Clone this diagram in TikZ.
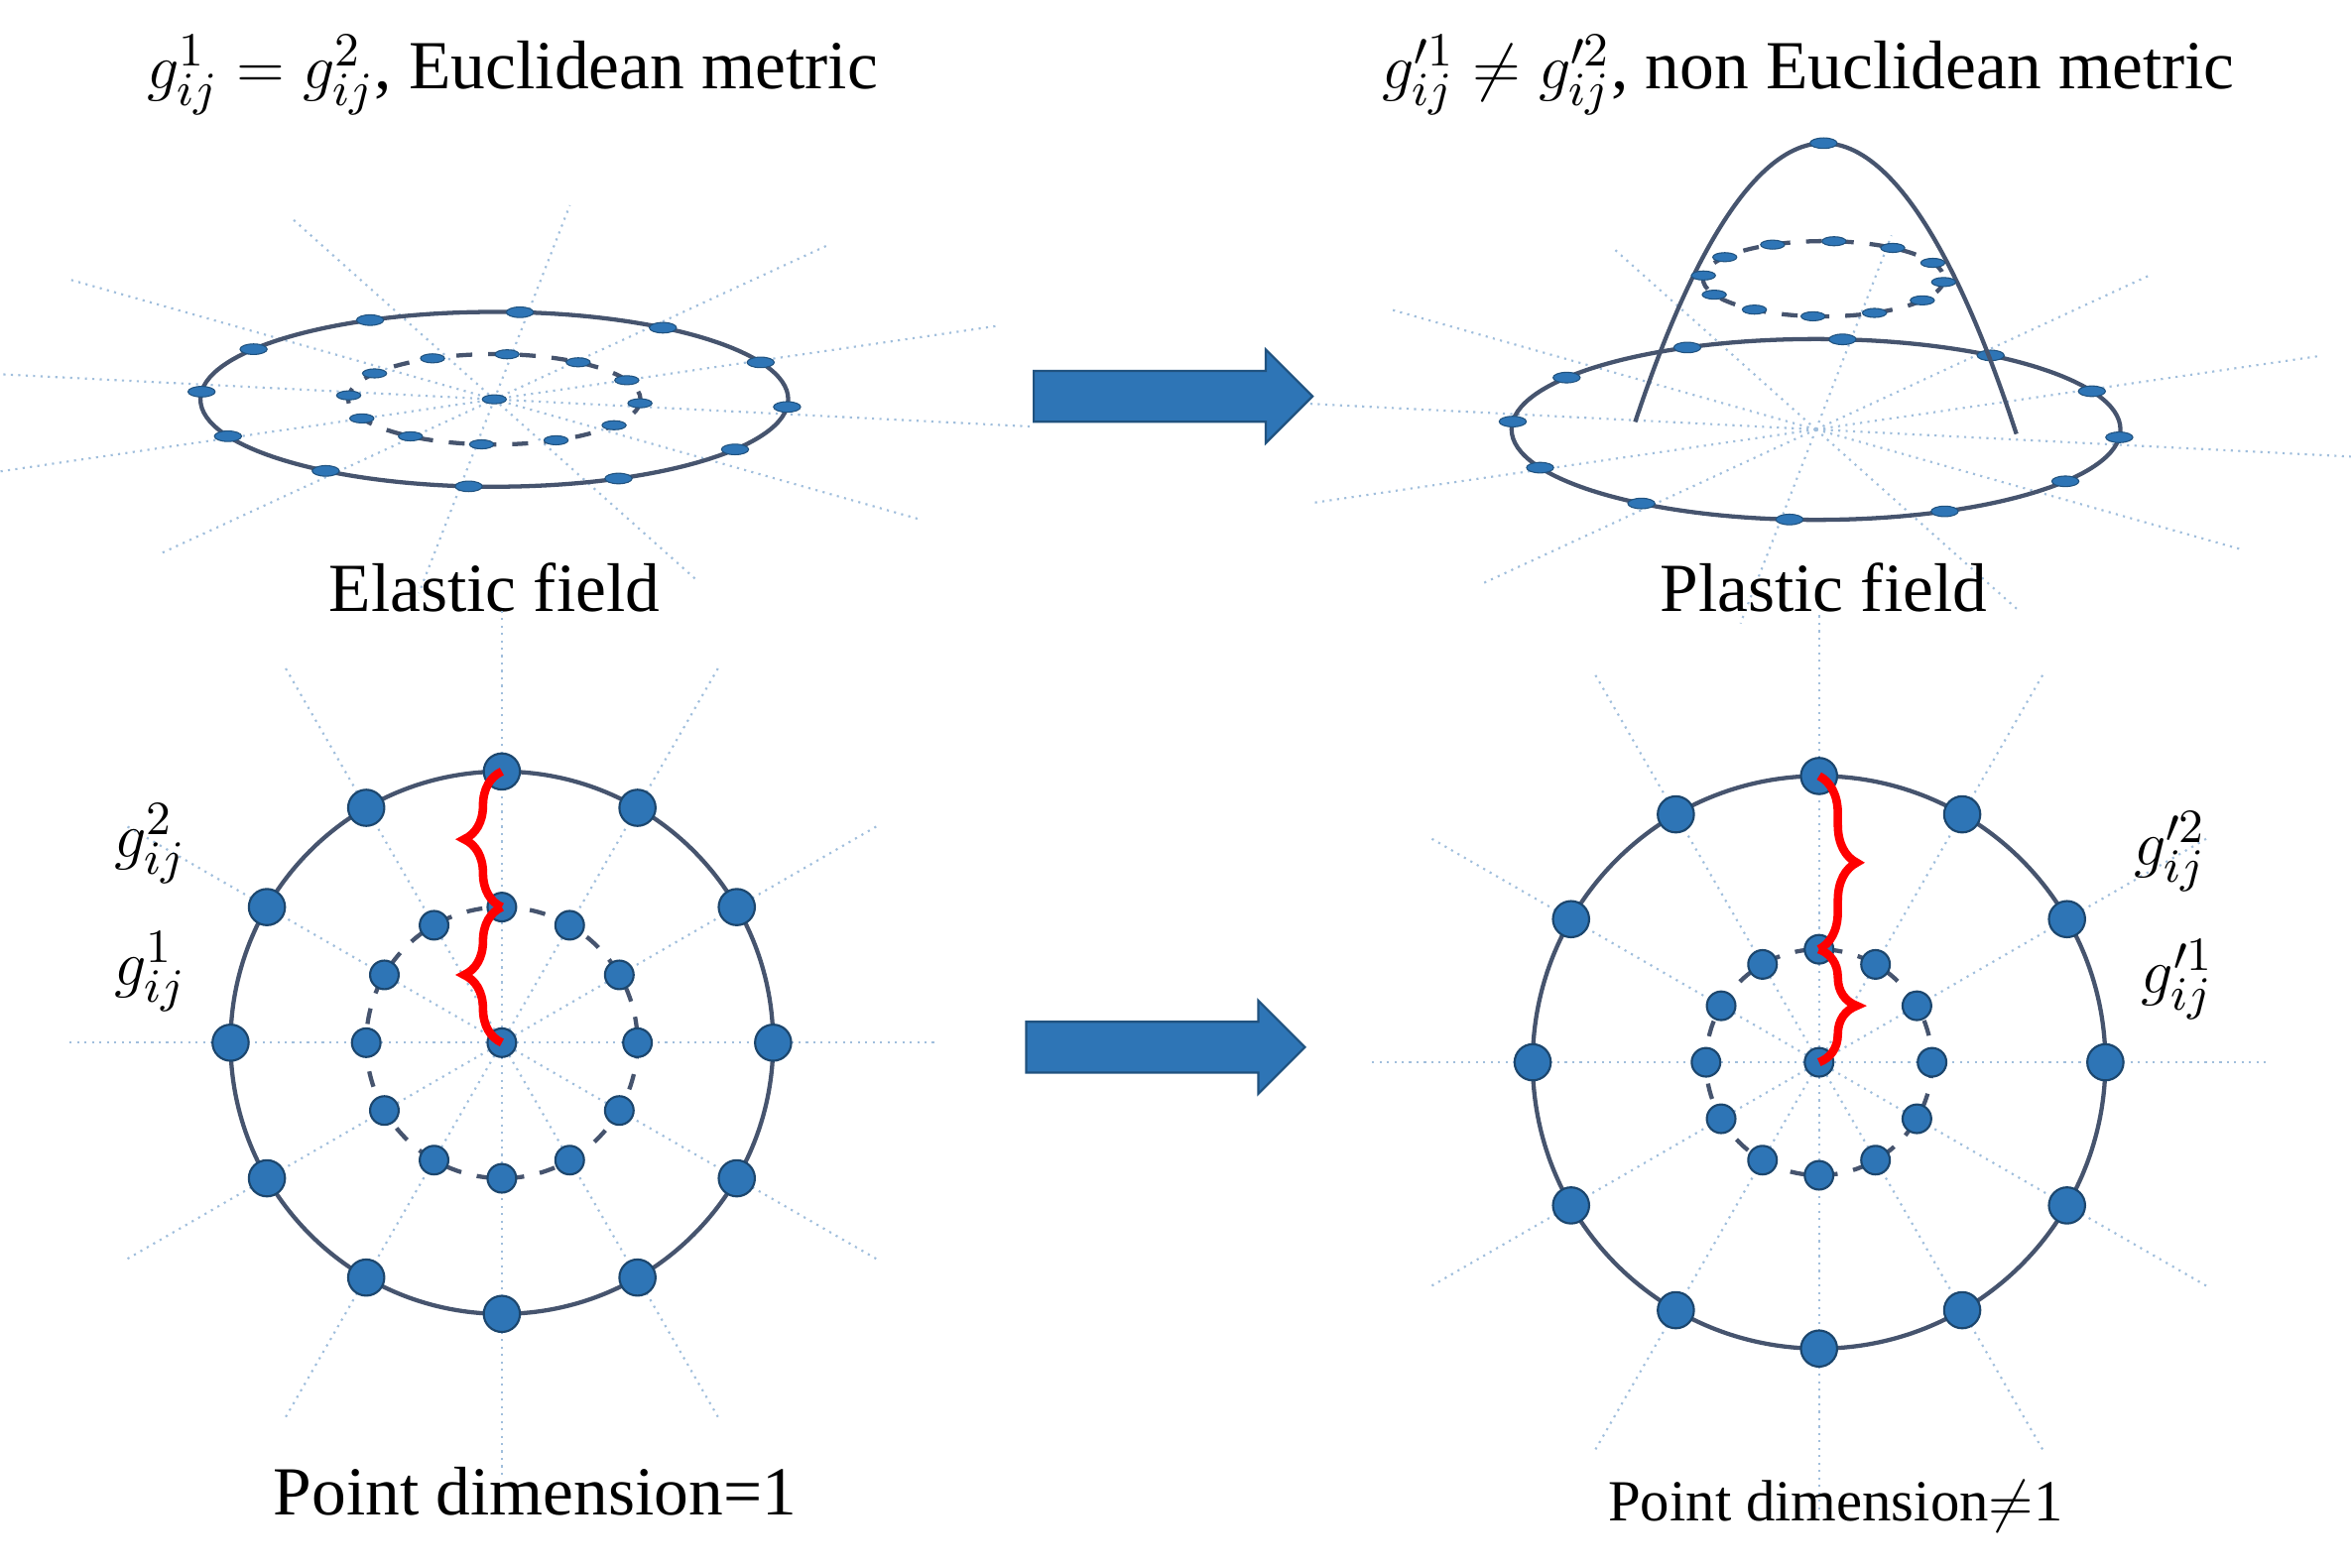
\documentclass[tikz,border=0pt]{standalone}
\usepackage{fontspec}
\setmainfont{Liberation Serif}
\usetikzlibrary{shapes.arrows, decorations.pathreplacing, calc}
\definecolor{dotblue}{RGB}{46,117,182}
\definecolor{ringgray}{RGB}{70,84,110}
\definecolor{raysblue}{RGB}{160,190,220}
\tikzset{
ray/.style={raysblue, densely dotted, thin},
ring/.style={ringgray, thick},
innerring/.style={ringgray, dashed, thick},
flatdot/.style={fill=dotblue, draw=dotblue!70!black, very thin},
bigdot/.style={circle, fill=dotblue, draw=dotblue!60!black, inner sep=0pt, minimum size=2.4mm},
bigarrow/.style={single arrow, fill=dotblue, draw=dotblue!70!black, minimum height=18.5mm, minimum width=6.2mm, single arrow head extend=1.4mm, inner sep=1.6mm},
bracered/.style={red, ultra thick, decorate, decoration={brace, amplitude=2.5mm}},
lbl/.style={font=\fontsize{13}{15}\selectfont},
}
\begin{document}
\begin{tikzpicture}[x=0.1mm, y=-0.1mm]
\useasboundingbox (0,0) rectangle (1560,1040);
% titles
\node[lbl] (titleL) at (340,50) {$g^1_{ij}=g^2_{ij}$, Euclidean metric};
\node[lbl] (titleR) at (1200,50) {$g'^1_{ij}\neq g'^2_{ij}$, non Euclidean metric};
% elastic field (top left)
\foreach \a in {0,30,...,330}
  \draw[ray] (328,265) -- ++({360*cos(\a+8)},{130*sin(\a+8)});
\draw[ring] (328,265) ellipse[x radius=195, y radius=58];
\draw[innerring] (328,265) ellipse[x radius=97, y radius=30];
\foreach \a in {0,30,...,330} {
  \fill[flatdot] ({328+195*cos(\a+5)},{265+58*sin(\a+5)}) ellipse[x radius=9, y radius=3.5];
  \fill[flatdot] ({328+97*cos(\a+5)},{265+30*sin(\a+5)}) ellipse[x radius=8, y radius=3];
}
\fill[flatdot] (328,265) ellipse[x radius=8, y radius=3];
\node[lbl] (elastic) at (328,390) {Elastic field};
% plastic field (top right)
\foreach \a in {0,30,...,330}
  \draw[ray] (1205,285) -- ++({360*cos(\a+8)},{130*sin(\a+8)});
\draw[ring] (1205,285) ellipse[x radius=202, y radius=60];
\foreach \a in {0,30,...,330}
  \fill[flatdot] ({1205+202*cos(\a+5)},{285+60*sin(\a+5)}) ellipse[x radius=9, y radius=3.5];
\draw[ring] (1085,280) parabola bend (1210,95) (1338,288);
\draw[innerring] (1210,185) ellipse[x radius=80, y radius=25];
\foreach \a in {0,30,...,330}
  \fill[flatdot] ({1210+80*cos(\a+5)},{185+25*sin(\a+5)}) ellipse[x radius=8, y radius=3];
\fill[flatdot] (1210,95) ellipse[x radius=9, y radius=3.5];
\node[lbl] (plastic) at (1210,390) {Plastic field};
% arrows
\node[bigarrow] (arrowTop) at (770,263) {};
\node[bigarrow] (arrowBot) at (765,695) {};
% point dimension = 1 (bottom left)
\foreach \a in {0,30,...,330}
  \draw[ray] (333,692) -- ++(\a:290);
\draw[ring] (333,692) circle[radius=180];
\draw[innerring] (333,692) circle[radius=90];
\foreach \a in {0,30,...,330} {
  \node[bigdot] at ($(333,692)+(\a:180)$) {};
  \node[bigdot, minimum size=1.9mm] at ($(333,692)+(\a:90)$) {};
}
\node[bigdot, minimum size=1.9mm] (cL) at (333,692) {};
\coordinate (midL) at (333,602);
\coordinate (topL) at (333,512);
\draw[bracered] (midL) -- (topL);
\draw[bracered] (cL.center) -- (midL);
\node[lbl] (g2L) at (100,560) {$g^2_{ij}$};
\node[lbl] (g1L) at (100,645) {$g^1_{ij}$};
\node[lbl] (pdL) at (355,990) {Point dimension=1};
% point dimension != 1 (bottom right)
\foreach \a in {0,30,...,330}
  \draw[ray] (1207,705) -- ++(\a:300);
\draw[ring] (1207,705) circle[radius=190];
\draw[innerring] (1207,705) circle[radius=75];
\foreach \a in {0,30,...,330} {
  \node[bigdot] at ($(1207,705)+(\a:190)$) {};
  \node[bigdot, minimum size=1.9mm] at ($(1207,705)+(\a:75)$) {};
}
\node[bigdot, minimum size=1.9mm] (cR) at (1207,705) {};
\coordinate (midR) at (1207,630);
\coordinate (topR) at (1207,515);
\draw[bracered] (topR) -- (midR);
\draw[bracered] (midR) -- (cR.center);
\node[lbl] (g2R) at (1440,565) {$g'^2_{ij}$};
\node[lbl] (g1R) at (1445,650) {$g'^1_{ij}$};
\node[font=\fontsize{11}{13}\selectfont] (pdR) at (1218,1000) {Point dimension$\neq$1};
\end{tikzpicture}
\end{document}
